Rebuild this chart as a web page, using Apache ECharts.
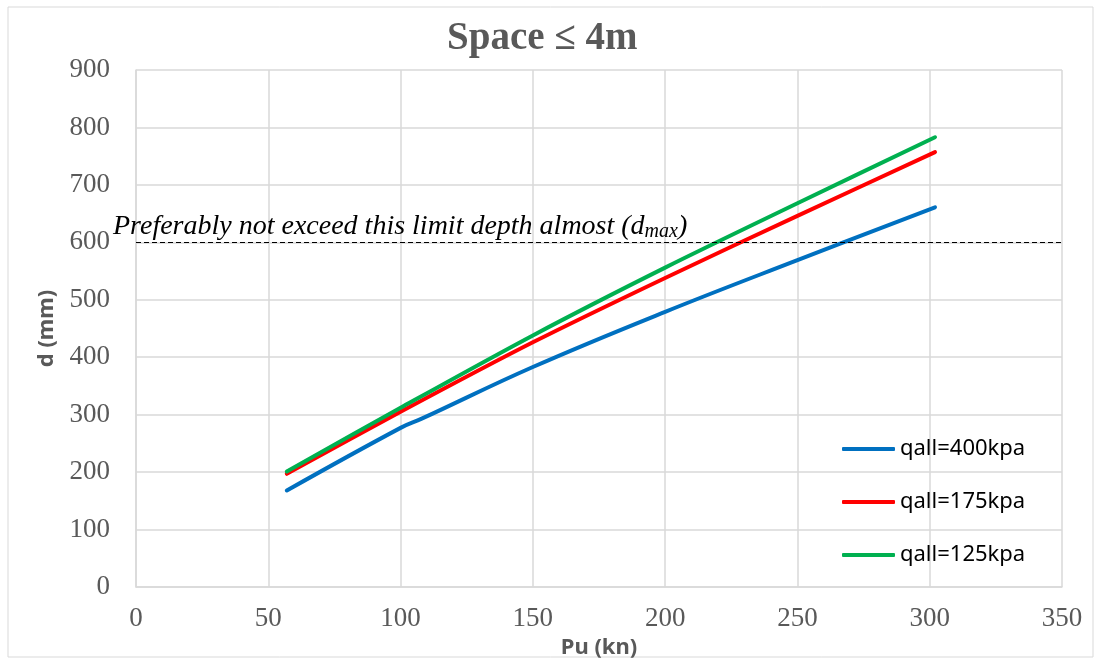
<!DOCTYPE html>
<html>
<head>
<meta charset="utf-8">
<script src="https://cdn.jsdelivr.net/npm/echarts@6/dist/echarts.min.js"></script>
<style>
  html, body { margin: 0; padding: 0; background: #fff; }
  #plot { width: 1102px; height: 666px; }
</style>
</head>
<body>
<div id="plot"></div>
<script>
// 数据
var pu400 = [57, 100, 108, 150, 200, 250, 302];
var d400 = [168, 277, 293, 383, 479, 569, 661];
var pu175 = [57, 100, 150, 200, 250, 302];
var d175 = [197, 305, 426, 538, 646, 757];
var pu125 = [57, 100, 150, 200, 250, 302];
var d125 = [201, 312, 438, 556, 668, 783];
var seriesNames = ['qall=400kpa', 'qall=175kpa', 'qall=125kpa'];
var seriesColors = ['#0070C0', '#FF0000', '#00B050'];
var limitDepth = 600;

function pairs(xs, ys) {
  return xs.map(function (x, i) { return [x, ys[i]]; });
}

var myChart = echarts.init(document.getElementById('plot'));

var serifFont = 'Liberation Serif';
var axisColor = '#595959';
var gridColor = '#d9d9d9';

var option = {
  animation: false,
  title: {
    text: 'Space ≤ 4m',
    left: 442,
    top: 14,
    textStyle: {
      fontFamily: serifFont,
      fontSize: 39,
      fontWeight: 'bold',
      color: axisColor
    }
  },
  graphic: [{
    type: 'rect',
    shape: { x: 8, y: 7, width: 1085, height: 650 },
    style: { fill: 'none', stroke: gridColor, lineWidth: 1 }
  }],
  grid: {
    left: 136,
    right: 40,
    top: 70,
    bottom: 79
  },
  legend: {
    orient: 'vertical',
    left: 837,
    top: 433,
    icon: 'roundRect',
    itemWidth: 53,
    itemHeight: 4,
    itemGap: 31,
    data: seriesNames,
    textStyle: {
      fontFamily: 'Noto Sans',
      fontSize: 22,
      color: '#000'
    }
  },
  xAxis: {
    type: 'value',
    min: 0,
    max: 350,
    interval: 50,
    name: 'Pu (kn)',
    nameLocation: 'middle',
    nameGap: 48,
    nameTextStyle: {
      fontFamily: 'Noto Sans',
      fontSize: 22,
      fontWeight: 'bold',
      color: axisColor
    },
    axisLine: { show: true, lineStyle: { color: gridColor, width: 1.5 } },
    axisTick: { show: false },
    axisLabel: {
      margin: 18,
      fontFamily: serifFont,
      fontSize: 27,
      color: axisColor
    },
    splitLine: { show: true, lineStyle: { color: gridColor, width: 1.5 } }
  },
  yAxis: {
    type: 'value',
    min: 0,
    max: 900,
    interval: 100,
    name: 'd (mm)',
    nameLocation: 'middle',
    nameGap: 78,
    nameTextStyle: {
      fontFamily: 'Noto Sans',
      fontSize: 22,
      fontWeight: 'bold',
      color: axisColor
    },
    axisLine: { show: true, lineStyle: { color: gridColor, width: 1.5 } },
    axisTick: { show: false },
    axisLabel: {
      margin: 26,
      fontFamily: serifFont,
      fontSize: 27,
      color: axisColor
    },
    splitLine: { show: true, lineStyle: { color: gridColor, width: 1.5 } }
  },
  series: [
    {
      name: seriesNames[0],
      type: 'line',
      data: pairs(pu400, d400),
      smooth: 0.4,
      symbol: 'none',
      color: seriesColors[0],
      lineStyle: { width: 4, cap: 'round' },
      markLine: {
        silent: true,
        symbol: 'none',
        lineStyle: { type: [5, 3], color: '#000', width: 1 },
        label: {
          position: 'insideStartTop',
          offset: [-24, 0],
          distance: 1,
          formatter: '{t|Preferably not exceed this limit depth almost (}{t|d}{s|max}{t|)}',
          rich: {
            t: { fontFamily: serifFont, fontStyle: 'italic', fontSize: 28, color: '#000' },
            s: { fontFamily: serifFont, fontStyle: 'italic', fontSize: 20, color: '#000', verticalAlign: 'bottom', padding: [10, 0, 0, 0] }
          }
        },
        data: [{ yAxis: limitDepth }]
      }
    },
    {
      name: seriesNames[1],
      type: 'line',
      data: pairs(pu175, d175),
      smooth: 0.3,
      symbol: 'none',
      color: seriesColors[1],
      lineStyle: { width: 4, cap: 'round' }
    },
    {
      name: seriesNames[2],
      type: 'line',
      data: pairs(pu125, d125),
      smooth: 0.3,
      symbol: 'none',
      color: seriesColors[2],
      lineStyle: { width: 4, cap: 'round' }
    }
  ]
};

myChart.setOption(option);
</script>
</body>
</html>
